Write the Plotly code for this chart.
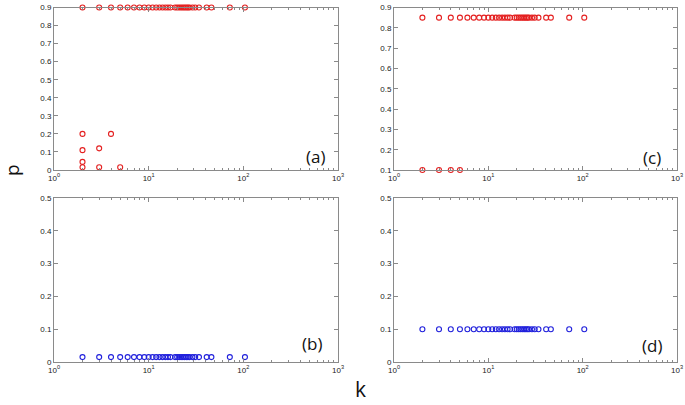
import plotly.graph_objects as go

# Degree values k shared by all panels
k_vals = [2, 3, 4, 5, 6, 7, 8, 9, 10, 11, 12, 13, 14, 15, 16, 17, 19, 20, 21, 22,
          23, 24, 25, 26, 27, 29, 31, 34, 41, 46, 72, 104]

# Panel (a): top row p = 0.9 plus a few low points
a_top_p = 0.9
a_low_k = [2, 2, 2, 2, 3, 3, 4, 5]
a_low_p = [0.2, 0.11, 0.045, 0.015, 0.12, 0.015, 0.2, 0.015]

# Panel (c): top row p = 0.85 plus low points at 0.1
c_top_p = 0.85
c_low_k = [2, 3, 4, 5]
c_low_p = [0.1, 0.1, 0.1, 0.1]

# Panel (b) and (d)
b_p = 0.015
d_p = 0.1

red = "rgb(228,32,32)"
blue = "rgb(32,32,220)"

fig = go.Figure()

def add(xs, ys, color, xa, ya):
    fig.add_trace(go.Scatter(x=xs, y=ys, mode="markers", xaxis=xa, yaxis=ya,
                             marker=dict(symbol="circle-open", size=5, color=color,
                                         line=dict(width=1.1, color=color)),
                             showlegend=False, hoverinfo="skip", cliponaxis=False))

add(k_vals, [a_top_p] * len(k_vals), red, "x", "y")
add(a_low_k, a_low_p, red, "x", "y")
add(k_vals, [c_top_p] * len(k_vals), red, "x2", "y2")
add(c_low_k, c_low_p, red, "x2", "y2")
add(k_vals, [b_p] * len(k_vals), blue, "x3", "y3")
add(k_vals, [d_p] * len(k_vals), blue, "x4", "y4")

W, H = 685, 405

def px(x):
    return x / W

def py(y):
    return 1 - y / H

xdom_l = [px(54), px(338)]
xdom_r = [px(394), px(677)]
ydom_t = [py(170), py(7.5)]
ydom_b = [py(362), py(198)]

minor_vals = [m * 10 ** e for e in range(0, 3) for m in range(2, 10)]
xtickvals = [1, 10, 100, 1000]
xticktext = ["10<sup>0</sup>", "10<sup>1</sup>", "10<sup>2</sup>", "10<sup>3</sup>"]

axcol = "#8a8a8a"
tickfont = dict(family="Liberation Sans, Arial", size=8, color="#222")

def xaxis(dom, anchor):
    return dict(type="log", range=[0, 3], domain=dom, anchor=anchor, automargin=False,
                tickvals=xtickvals, ticktext=xticktext, ticks="inside", ticklen=4,
                tickcolor=axcol, showline=True, linecolor=axcol, linewidth=1,
                mirror="ticks", showgrid=False, zeroline=False, tickfont=tickfont,
                minor=dict(tickvals=minor_vals, ticks="inside", ticklen=2,
                           tickcolor=axcol, showgrid=False))

def yaxis(dom, anchor, rng, vals):
    return dict(range=rng, domain=dom, anchor=anchor, tickvals=vals, automargin=False,
                ticktext=["0" if v == 0 else f"{v:.1f}" for v in vals],
                ticks="inside", ticklen=4, tickcolor=axcol, showline=True,
                linecolor=axcol, linewidth=1, mirror="ticks", showgrid=False,
                zeroline=False, tickfont=tickfont)

a_yt = [i / 10 for i in range(0, 10)]
c_yt = [i / 10 for i in range(1, 10)]
bd_yt = [i / 10 for i in range(0, 6)]

fig.update_layout(
    width=W, height=H, margin=dict(l=0, r=0, t=0, b=0, autoexpand=False),
    paper_bgcolor="white", plot_bgcolor="white",
    xaxis=xaxis(xdom_l, "y"), yaxis=yaxis(ydom_t, "x", [0, 0.9], a_yt),
    xaxis2=xaxis(xdom_r, "y2"), yaxis2=yaxis(ydom_t, "x2", [0.1, 0.9], c_yt),
    xaxis3=xaxis(xdom_l, "y3"), yaxis3=yaxis(ydom_b, "x3", [0, 0.5], bd_yt),
    xaxis4=xaxis(xdom_r, "y4"), yaxis4=yaxis(ydom_b, "x4", [0, 0.5], bd_yt),
)

lblfont = dict(family="Open Sans, Liberation Sans", size=17, color="#111")
labels = [("(a)", 315, 156), ("(c)", 652, 157), ("(b)", 312, 343), ("(d)", 652, 345)]
for t, lx, ly in labels:
    fig.add_annotation(text=t, x=px(lx), y=py(ly), xref="paper", yref="paper",
                       showarrow=False, font=lblfont, xanchor="center", yanchor="middle")

fig.add_annotation(text="p", x=px(12), y=py(170), xref="paper", yref="paper",
                   showarrow=False, textangle=-90,
                   font=dict(family="Open Sans, Liberation Sans", size=19, color="#111"),
                   xanchor="center", yanchor="middle")
fig.add_annotation(text="k", x=px(360), y=py(389), xref="paper", yref="paper",
                   showarrow=False,
                   font=dict(family="Open Sans, Liberation Sans", size=21, color="#111"),
                   xanchor="center", yanchor="middle")

fig.write_html("out.html", config={"displayModeBar": False},
               post_script="document.body.style.margin='0';document.body.style.overflow='hidden';")
